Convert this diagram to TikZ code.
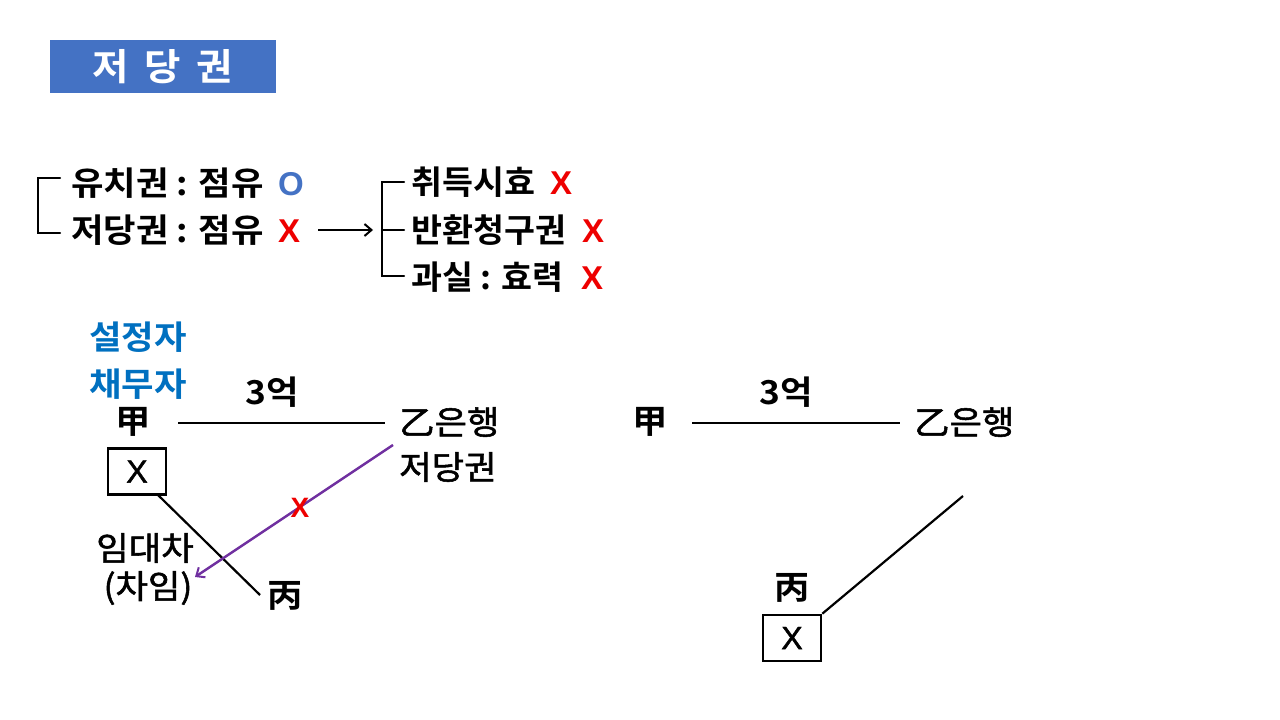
\documentclass[tikz,border=0pt]{standalone}
\usepackage{fontspec}
\newfontfamily\kr{Noto Sans CJK KR}[BoldFont={Noto Sans CJK KR Bold}, FakeStretch=1.07]
\newfontfamily\krn{Noto Sans CJK KR}[BoldFont={Noto Sans CJK KR Bold}, FakeStretch=1.02]
\newfontfamily\krm{Noto Sans CJK KR}[FakeStretch=1.07, FakeBold=1.6]
\newfontfamily\lat{Liberation Sans}
\newfontfamily\latm{Liberation Sans}[FakeBold=1.5]
\usetikzlibrary{arrows.meta}
\definecolor{titleblue}{HTML}{4472C4}
\definecolor{oblue}{HTML}{4472C4}
\definecolor{sblue}{HTML}{0070C0}
\definecolor{xred}{HTML}{EE0000}
\definecolor{purp}{HTML}{7030A0}
\newcommand{\cln}{ : }
\tikzset{
  txt/.style={font=\kr\bfseries\fontsize{33}{40}\selectfont, inner sep=0pt},
  ntxt/.style={font=\krn\bfseries\fontsize{33}{40}\selectfont, inner sep=0pt},
  rtxt/.style={font=\krm\fontsize{33}{40}\selectfont, inner sep=0pt},
  ox/.style={font=\lat\bfseries\fontsize{33}{36}\selectfont, inner sep=0pt},
  ln/.style={line width=2.2pt, black},
  boxx/.style={draw, line width=2.6pt, minimum width=58pt, minimum height=46pt, inner sep=0pt, font=\latm\fontsize{32}{36}\selectfont},
}
\begin{document}
\begin{tikzpicture}[x=1pt,y=-1pt]
\useasboundingbox (0,0) rectangle (1280,720);
\fill[white] (0,0) rectangle (1280,720);
% title
\node[fill=titleblue, minimum width=226pt, minimum height=53pt, inner sep=0pt, text=white, font=\kr\bfseries\fontsize{37}{44}\selectfont] (title) at (163,66.5) {저\hspace{0.42em}당\hspace{0.42em}권};
% left bracket
\coordinate (lb1) at (60,178);
\coordinate (lb2) at (60,233);
\draw[ln, line cap=round] (lb1) -- (38,178) -- (38,233) -- (lb2);
\node[txt, anchor=west] (l1) at (71,183) {유치권\cln 점유};
\node[ox, text=oblue, anchor=west] (o1) at (278,184) {O};
\node[txt, anchor=west] (l2) at (71,230) {저당권\cln 점유};
\node[ox, text=xred, anchor=west] (x1) at (278,231) {X};
\coordinate (ar1) at (318,230);
\coordinate (ar2) at (373,230);
\draw[ln, -{Straight Barb[length=7pt,width=12pt,line width=2pt]}] (ar1) -- (ar2);
% right bracket
\draw[ln, line cap=round] (404,182) -- (382,182) -- (382,276) -- (404,276);
\draw[ln, line cap=round] (382,230) -- (404,230);
\node[ntxt, anchor=west] (r1) at (411,182) {취득시효};
\node[ox, text=xred, anchor=west] (x2) at (550,183) {X};
\node[ntxt, anchor=west] (r2) at (411,230) {반환청구권};
\node[ox, text=xred, anchor=west] (x3) at (582,231) {X};
\node[ntxt, anchor=west] (r3) at (411,277) {과실\cln 효력};
\node[ox, text=xred, anchor=west] (x4) at (581,278) {X};
% left diagram
\node[txt, text=sblue, anchor=west] (s1) at (89,337) {설정자};
\node[txt, text=sblue, anchor=west] (s2) at (89,384) {채무자};
\node[txt] (gap1) at (133,422) {甲};
\node[txt] (ok1) at (272,392) {3억};
\node[rtxt, anchor=west] (bank1) at (399,422) {乙은행};
\node[rtxt, anchor=west] (jd) at (399,467) {저당권};
\coordinate (h1a) at (178,423);
\coordinate (h1b) at (385,423);
\draw[ln] (h1a) -- (h1b);
\node[boxx] (bx1) at (137,471.5) {X};
\coordinate (c1end) at (260,595);
\draw[ln] (158,495) -- (c1end);
\node[txt] (byung1) at (285,596) {丙};
\node[rtxt] (im) at (145,548) {임대차};
\node[rtxt] (cha) at (148,588) {(차임)};
\coordinate (pa) at (393,445);
\coordinate (pb) at (195,577);
\draw[line width=2.4pt, purp, -{Straight Barb[length=7pt,width=12pt,line width=2pt]}] (pa) -- (pb);
\node[ox, text=xred, font=\lat\bfseries\fontsize{28}{30}\selectfont] (xp) at (300,508) {X};
% right diagram
\node[txt] (gap2) at (650,422) {甲};
\node[txt] (ok2) at (786,392) {3억};
\node[rtxt, anchor=west] (bank2) at (914,422) {乙은행};
\coordinate (h2a) at (692,423);
\coordinate (h2b) at (900,423);
\draw[ln] (h2a) -- (h2b);
\node[txt] (byung2) at (792,588) {丙};
\node[boxx] (bx2) at (792,638) {X};
\coordinate (d2) at (963,496);
\draw[ln] (d2) -- (bx2.north east);
\end{tikzpicture}
\end{document}
